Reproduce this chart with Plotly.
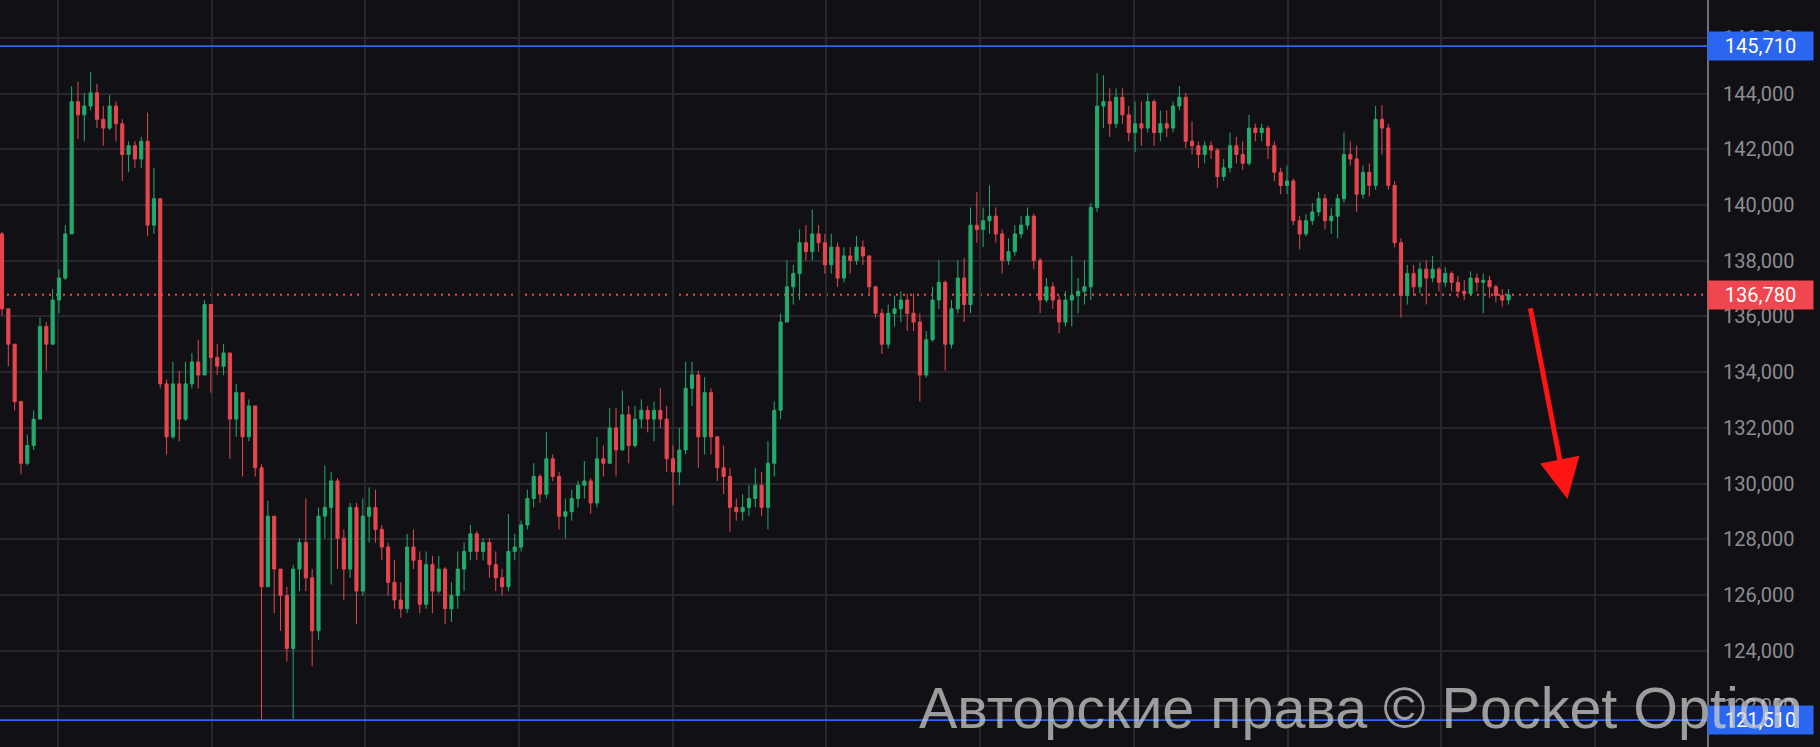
import plotly.graph_objects as go

# ---------------- data ----------------
closes = [136275, 135005, 132945, 130730, 131365, 132315, 135640, 135005, 136590, 137380,
          138965, 143715, 143240, 143555, 144030, 143080, 142765, 143555, 142920, 141815,
          142130, 141655, 142290, 139280, 140230, 133580, 131680, 133580, 132315, 133580,
          134370, 133900, 136430, 134530, 134215, 134690, 132315, 133265, 131680, 132790,
          130570, 126295, 128830, 126930, 125980, 124080, 126930, 127880, 126615, 124715,
          128830, 129145, 130095, 128040, 126930, 129145, 126140, 128830, 129145, 128355,
          127720, 126455, 125820, 125505, 127720, 127245, 125665, 127090, 126140, 126930,
          125505, 125980, 126930, 127565, 128195, 127565, 127880, 127090, 126615, 126295,
          127565, 127720, 128515, 129465, 130255, 129620, 130890, 130255, 128830, 128990,
          129465, 129940, 130095, 129305, 130890, 130730, 131995, 131205, 132470, 131365,
          132315, 132630, 132315, 132630, 132315, 130890, 130415, 131205, 133420, 133900,
          131680, 133265, 131680, 130570, 130255, 129145, 128990, 129145, 129465, 129940,
          129145, 130730, 132630, 135800, 137065, 137540, 138650, 138330, 138965, 138650,
          137855, 138490, 137380, 138175, 138015, 138490, 138175, 137065, 136115, 135005,
          136115, 136275, 136590, 136115, 135800, 133900, 135165, 136590, 137225, 135005,
          136275, 137380, 136430, 139280, 139125, 139440, 139600, 138965, 138015, 138330,
          138965, 139280, 139600, 138015, 136590, 137065, 136590, 135800, 136590, 136750,
          136905, 137065, 139915, 143555, 143715, 142920, 143870, 143240, 142605, 142920,
          142765, 143715, 142605, 142920, 142765, 143555, 143870, 142290, 142130, 141815,
          142130, 141975, 141025, 141340, 142130, 141815, 141500, 142765, 142605, 142765,
          142130, 141180, 140705, 140865, 139440, 138965, 139440, 139755, 140230, 139440,
          139600, 140230, 141815, 141655, 140390, 141180, 140705, 143080, 142765, 140705,
          138650, 136750, 137540, 137065, 137700, 137380, 137700, 137225, 137540, 137225,
          136905, 136825, 137380, 137225, 137300, 137065, 136750, 136590, 136780]

opens = [138965, 136275, 135005, 132945, 130730, 131365, 132315, 135640, 135005, 136590,
         137380, 138965, 143715, 143240, 143555, 144030, 143080, 142765, 143555, 142920,
         141815, 142130, 141655, 142290, 139280, 140230, 133580, 131680, 133580, 132315,
         133580, 134370, 133900, 136430, 134530, 134215, 134690, 132315, 133265, 131680,
         132790, 130570, 126295, 128830, 126930, 125980, 124080, 126930, 127880, 126615,
         124715, 128830, 129145, 130095, 128040, 126930, 129145, 126140, 128830, 129145,
         128355, 127720, 126455, 125820, 125505, 127720, 127245, 125665, 127090, 126140,
         126930, 125505, 125980, 126930, 127565, 128195, 127565, 127880, 127090, 126615,
         126295, 127565, 127720, 128515, 129465, 130255, 129620, 130890, 130255, 128830,
         128990, 129465, 129940, 130095, 129305, 130890, 130730, 131995, 131205, 132470,
         131365, 132315, 132630, 132315, 132630, 132315, 130890, 130415, 131205, 133420,
         133900, 131680, 133265, 131680, 130570, 130255, 129145, 128990, 129145, 129465,
         129940, 129145, 130730, 132630, 135800, 137065, 137540, 138650, 138330, 138965,
         138650, 137855, 138490, 137380, 138175, 138015, 138490, 138175, 137065, 136115,
         135005, 136115, 136275, 136590, 136115, 135800, 133900, 135165, 136590, 137225,
         135005, 136275, 137380, 136430, 139280, 139125, 139440, 139600, 138965, 138015,
         138330, 138965, 139280, 139600, 138015, 136590, 137065, 136590, 135800, 136590,
         136750, 136905, 137065, 139915, 143555, 143715, 142920, 143870, 143240, 142605,
         142920, 142765, 143715, 142605, 142920, 142765, 143555, 143870, 142290, 142130,
         141815, 142130, 141975, 141025, 141340, 142130, 141815, 141500, 142765, 142605,
         142765, 142130, 141180, 140705, 140865, 139440, 138965, 139440, 139755, 140230,
         139440, 139600, 140230, 141815, 141655, 140390, 141180, 140705, 143080, 142765,
         140705, 138650, 136750, 137540, 137065, 137700, 137380, 137700, 137225, 137540,
         137225, 136905, 136825, 137380, 137225, 137300, 137065, 136750, 136590]

highs = [139040, 136275, 135005, 132945, 131760, 132630, 135955, 135800, 136985, 137700,
         139280, 144270, 144430, 144030, 144780, 144350, 143555, 143950, 143715, 143080,
         142290, 142290, 142450, 143320, 141340, 140230, 133740, 134370, 134055, 134370,
         134690, 135165, 136590, 136430, 135005, 135005, 134690, 133580, 133265, 133025,
         132790, 130700, 129385, 128830, 126930, 126295, 127090, 128040, 129465, 126930,
         129145, 130650, 130415, 130200, 128355, 129305, 129305, 129465, 129860, 129780,
         128515, 127880, 127245, 126455, 128195, 128355, 127565, 127565, 127405, 127405,
         127000, 126455, 127565, 127880, 128515, 128300, 128040, 128040, 127565, 126930,
         128910, 128195, 128670, 129780, 130730, 130350, 131840, 131045, 130415, 129465,
         129780, 130095, 130810, 130200, 131680, 131365, 132710, 132710, 133345, 132790,
         132790, 133025, 132790, 132945, 133420, 132790, 131365, 131995, 134370, 134370,
         134055, 133820, 133420, 131680, 131365, 130570, 129465, 129620, 129940, 130570,
         130415, 131520, 132945, 136115, 138015, 137855, 139125, 139280, 139835, 139280,
         138965, 138965, 138650, 138490, 138490, 138885, 138730, 138175, 137100, 136275,
         136430, 136750, 136905, 136825, 136825, 136115, 135480, 137065, 138015, 137300,
         136590, 138015, 138095, 139915, 140470, 139915, 140705, 139915, 139125, 138805,
         139280, 139600, 139915, 139700, 138100, 137380, 137225, 136750, 136905, 138175,
         137380, 138015, 140075, 144740, 144665, 144190, 144190, 144190, 143555, 143715,
         143715, 144030, 143800, 143400, 143400, 143715, 144270, 144030, 143000, 142290,
         142290, 142290, 142050, 141655, 142605, 142450, 142290, 143240, 142920, 142920,
         142850, 142290, 141340, 141420, 140950, 139600, 139675, 140075, 140470, 140390,
         139915, 140390, 142605, 142290, 142130, 141420, 141500, 143555, 143590, 142920,
         140865, 138805, 137855, 137855, 137935, 138015, 138175, 137775, 137775, 137620,
         137460, 137300, 137620, 137540, 137540, 137460, 137145, 136985, 136985]

lows = [136035, 134215, 132630, 130335, 130650, 131205, 132315, 134055, 135005, 136115,
        137300, 138965, 142370, 142290, 143400, 142765, 142130, 142700, 142290, 140865,
        141180, 141340, 141340, 138885, 138965, 133420, 131045, 131600, 131520, 132250,
        133420, 133420, 133900, 133265, 133900, 133900, 130890, 131680, 130255, 131520,
        130255, 121500, 126295, 125345, 124715, 123605, 121550, 126140, 126140, 123445,
        124395, 128040, 126375, 126930, 125820, 126615, 124950, 125980, 127880, 127880,
        127245, 125980, 125505, 125190, 125345, 126930, 125345, 125505, 125345, 126050,
        124950, 125030, 125505, 126140, 127245, 127245, 127245, 126615, 126140, 125980,
        126140, 127245, 127565, 128355, 129145, 129305, 129465, 130095, 128355, 128040,
        128670, 129145, 129465, 128910, 129145, 130255, 130730, 130255, 131205, 130730,
        131300, 131995, 131840, 131520, 131995, 130415, 129225, 129940, 131045, 132790,
        130570, 131045, 131045, 130095, 129620, 128275, 128670, 128670, 128830, 129145,
        128830, 128355, 130255, 132315, 135800, 136430, 136590, 138015, 138015, 138330,
        137540, 137540, 137065, 137225, 137540, 137855, 137855, 136750, 135955, 134655,
        134850, 135640, 135800, 135480, 135480, 132945, 133800, 135100, 136275, 134055,
        134850, 136115, 135800, 136115, 138650, 138490, 138965, 138650, 137540, 137855,
        138175, 138805, 139125, 137700, 136115, 136500, 136275, 135400, 135640, 135640,
        136115, 136430, 136590, 139755, 142765, 142450, 142765, 142920, 142290, 141895,
        142130, 142605, 142130, 142290, 142450, 142605, 143400, 142050, 141815, 141340,
        141500, 141655, 140625, 140865, 141180, 141500, 141260, 141420, 142290, 142290,
        141655, 140865, 140390, 140390, 139280, 138410, 138885, 139280, 139600, 139125,
        138965, 138805, 140075, 141420, 139755, 140230, 140310, 140550, 141815, 140550,
        138490, 135955, 136430, 136750, 136825, 136430, 137225, 136905, 137065, 136905,
        136670, 136590, 136750, 136905, 136115, 136670, 136510, 136350, 136430]

candle_index = list(range(len(closes)))

level_high = 145710
level_low = 121510
current_price = 136780
y_tick_values = [122000, 124000, 126000, 128000, 130000, 132000, 134000,
                 136000, 138000, 140000, 142000, 144000, 146000]

# forecast arrow (start / end in data units)
arrow_start = (241.4, 136350)
arrow_end = (247.3, 129450)

watermark = "Авторские права © Pocket Option"

# ---------------- styles ----------------
BG = "#111115"
GRID = "#27272d"
GREEN = "#23ab6d"
RED = "#e8464e"
BLUE = "#2b66f1"
LABEL_RED = "#ef4650"
TICK_COLOR = "#8c8c91"
AXIS_COLOR = "#6e6e73"
FONT = "Roboto"

fig = go.Figure()
fig.add_trace(go.Candlestick(
    x=candle_index, open=opens, high=highs, low=lows, close=closes,
    increasing=dict(line=dict(color=GREEN, width=1), fillcolor=GREEN),
    decreasing=dict(line=dict(color=RED, width=1), fillcolor=RED),
    whiskerwidth=0, hoverinfo="skip", showlegend=False,
))

shapes = [
    dict(type="line", xref="paper", x0=0, x1=1, yref="y", y0=level_high, y1=level_high,
         line=dict(color=BLUE, width=1.8), layer="above"),
    dict(type="line", xref="paper", x0=0, x1=1, yref="y", y0=level_low, y1=level_low,
         line=dict(color=BLUE, width=1.8), layer="above"),
    dict(type="line", xref="paper", x0=0, x1=1, yref="y", y0=current_price, y1=current_price,
         line=dict(color=LABEL_RED, width=2, dash="2px,5px"), layer="below"),
]

def price_box(val, color):
    return dict(xref="paper", x=1, xanchor="left", yref="y", y=val, yanchor="middle",
                text=f"{val:,}", showarrow=False, bgcolor=color, borderpad=1,
                width=103, height=26, align="center",
                font=dict(color="white", size=20, family=FONT))

annotations = [
    price_box(level_high, BLUE),
    price_box(current_price, LABEL_RED),
    price_box(level_low, BLUE),
    dict(x=arrow_end[0], y=arrow_end[1], ax=arrow_start[0], ay=arrow_start[1],
         xref="x", yref="y", axref="x", ayref="y", text="", showarrow=True,
         arrowhead=2, arrowsize=1.6, arrowwidth=5, arrowcolor="#ff1414"),
    dict(xref="paper", x=1.0574, xanchor="right", yref="paper", y=0.052, yanchor="middle",
         text=watermark, showarrow=False,
         font=dict(family="Liberation Sans", size=57.5, color="rgba(205,205,205,0.74)")),
]

fig.update_layout(
    width=1820, height=747,
    paper_bgcolor=BG, plot_bgcolor=BG,
    margin=dict(l=0, r=113, t=0, b=0),
    shapes=shapes, annotations=annotations,
    hovermode=False,
    xaxis=dict(range=[-0.316, 269.35], showticklabels=False, showgrid=True,
               gridcolor=GRID, gridwidth=1.5, tick0=8.85, dtick=24.28,
               zeroline=False, showline=False, rangeslider=dict(visible=False),
               fixedrange=True),
    yaxis=dict(side="right", range=[120542, 147364], tickvals=y_tick_values,
               tickformat=",d", showgrid=True, gridcolor=GRID, gridwidth=1.5,
               showline=True, linecolor=AXIS_COLOR, linewidth=2,
               ticks="outside", ticklen=10, tickcolor="rgba(0,0,0,0)",
               tickfont=dict(color=TICK_COLOR, size=20, family=FONT),
               zeroline=False, fixedrange=True),
)

fig.write_html("out.html", config={"displayModeBar": False},
               post_script="document.body.style.margin='0';document.body.style.background='#111115';")
